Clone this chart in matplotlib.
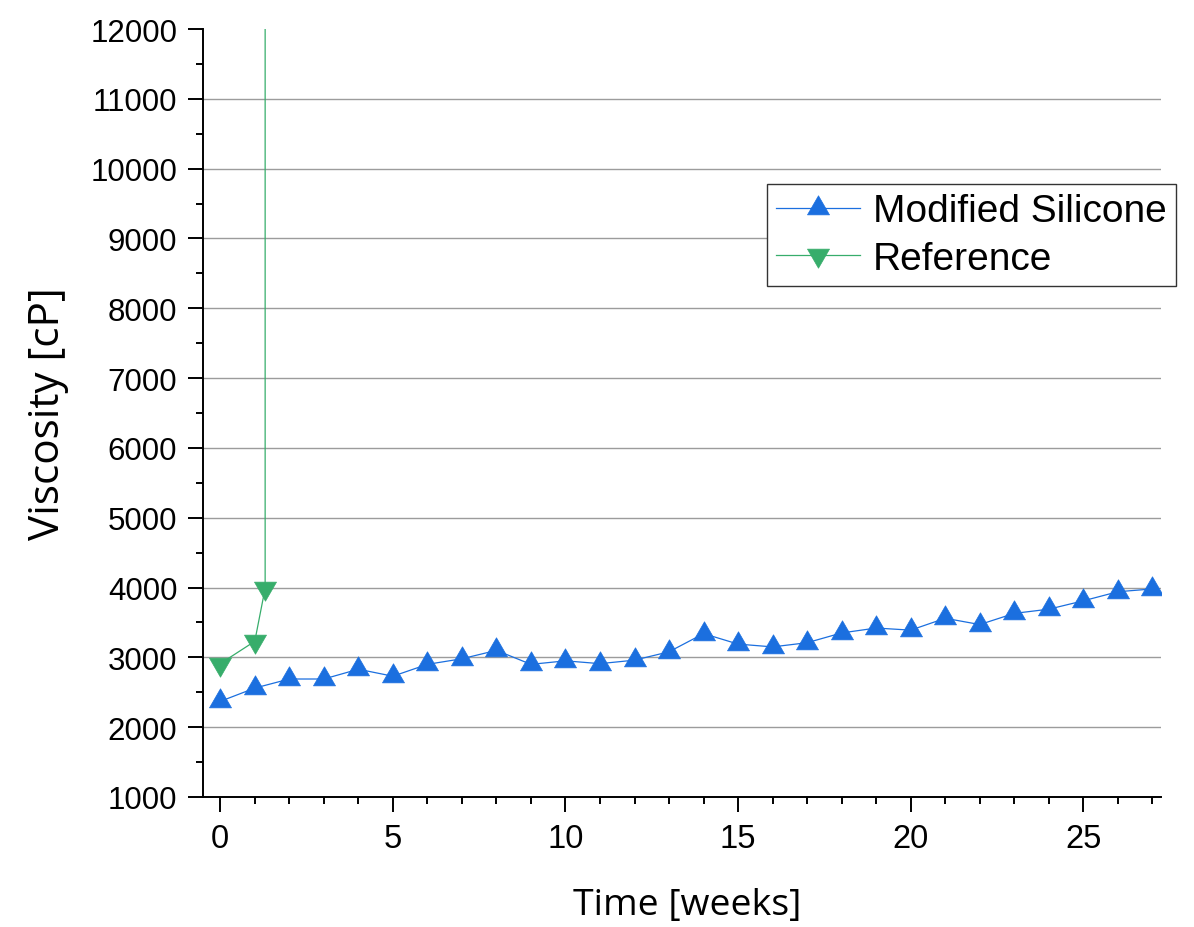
import numpy as np
import matplotlib.pyplot as plt
from matplotlib.path import Path
from matplotlib.ticker import MultipleLocator

weeks = np.arange(0, 28)
modified = [2370, 2560, 2690, 2690, 2830, 2730, 2900, 2980, 3100, 2900,
            2950, 2910, 2960, 3080, 3340, 3190, 3150, 3210, 3350, 3420,
            3390, 3560, 3470, 3630, 3690, 3810, 3940, 3980]

# reference sample gels after ~9 days, last value goes off scale
ref_weeks = [0, 1, 1.3, 1.3]
reference = [2910, 3230, 3990, 60000]

grid_levels = np.arange(2000, 12000, 1000)

blue = '#1b6fdf'
green = '#37ad6b'

# triangles anchored at their centroid (like Origin)
tri_up = Path([(0, 0.577), (-0.5, -0.289), (0.5, -0.289), (0, 0.577)], closed=True)
tri_down = Path([(0, -0.577), (-0.5, 0.289), (0.5, 0.289), (0, -0.577)], closed=True)

fig = plt.figure(figsize=(11.94, 9.28), dpi=100)
ax = fig.add_axes([203 / 1194, 1 - 798 / 928, 958 / 1194, 768 / 928])

# horizontal grid at the major ticks, none on the top edge
ax.hlines(grid_levels, 0, 1, transform=ax.get_yaxis_transform(),
          color='#9c9c9c', lw=1.0, zorder=1)

ax.plot(weeks, modified, color=blue, lw=0.9, marker=tri_up, ms=18.3,
        mfc=blue, mec=blue, mew=0.5, label='Modified Silicone', zorder=3)
ax.plot(ref_weeks, reference, color=green, lw=0.9, marker=tri_down, ms=18.3,
        mfc=green, mec=green, mew=0.5, label='Reference', zorder=3)

ax.set_xlim(-0.5, 27.25)
ax.set_ylim(1000, 12000)
ax.xaxis.set_major_locator(MultipleLocator(5))
ax.xaxis.set_minor_locator(MultipleLocator(1))
ax.yaxis.set_major_locator(MultipleLocator(1000))
ax.yaxis.set_minor_locator(MultipleLocator(500))

for s in ['top', 'right']:
    ax.spines[s].set_visible(False)
for s in ['left', 'bottom']:
    ax.spines[s].set_linewidth(1.4)

ax.tick_params(which='major', length=10.5, width=1.4, direction='out')
ax.tick_params(which='minor', length=5.2, width=1.4, direction='out')
ax.tick_params(axis='y', which='major', labelsize=22.5, pad=8)
ax.tick_params(axis='x', which='major', labelsize=23.5, pad=8)
for lbl in ax.get_xticklabels() + ax.get_yticklabels():
    lbl.set_family('Liberation Sans')

ax.set_ylabel('Viscosity [cP]', family='Open Sans', fontsize=30.4)
ax.yaxis.label.set(va='center', rotation_mode='anchor')
ax.yaxis.set_label_coords(-0.162, 0.5)
ax.set_xlabel('Time [weeks]', family='Open Sans', fontsize=26.9)
ax.xaxis.label.set(va='center')
ax.xaxis.set_label_coords(0.505, -0.141)

leg = ax.legend(loc='upper left', bbox_to_anchor=(767 / 1194, 1 - 185 / 928),
                bbox_transform=fig.transFigure, borderaxespad=0,
                prop={'family': 'Liberation Sans', 'size': 28},
                handlelength=2.16, handletextpad=0.334,
                labelspacing=0.293, borderpad=0.237, fancybox=False,
                framealpha=1, edgecolor='#333333')
leg.get_frame().set_linewidth(1.0)

fig.savefig('out.png', dpi=100)
